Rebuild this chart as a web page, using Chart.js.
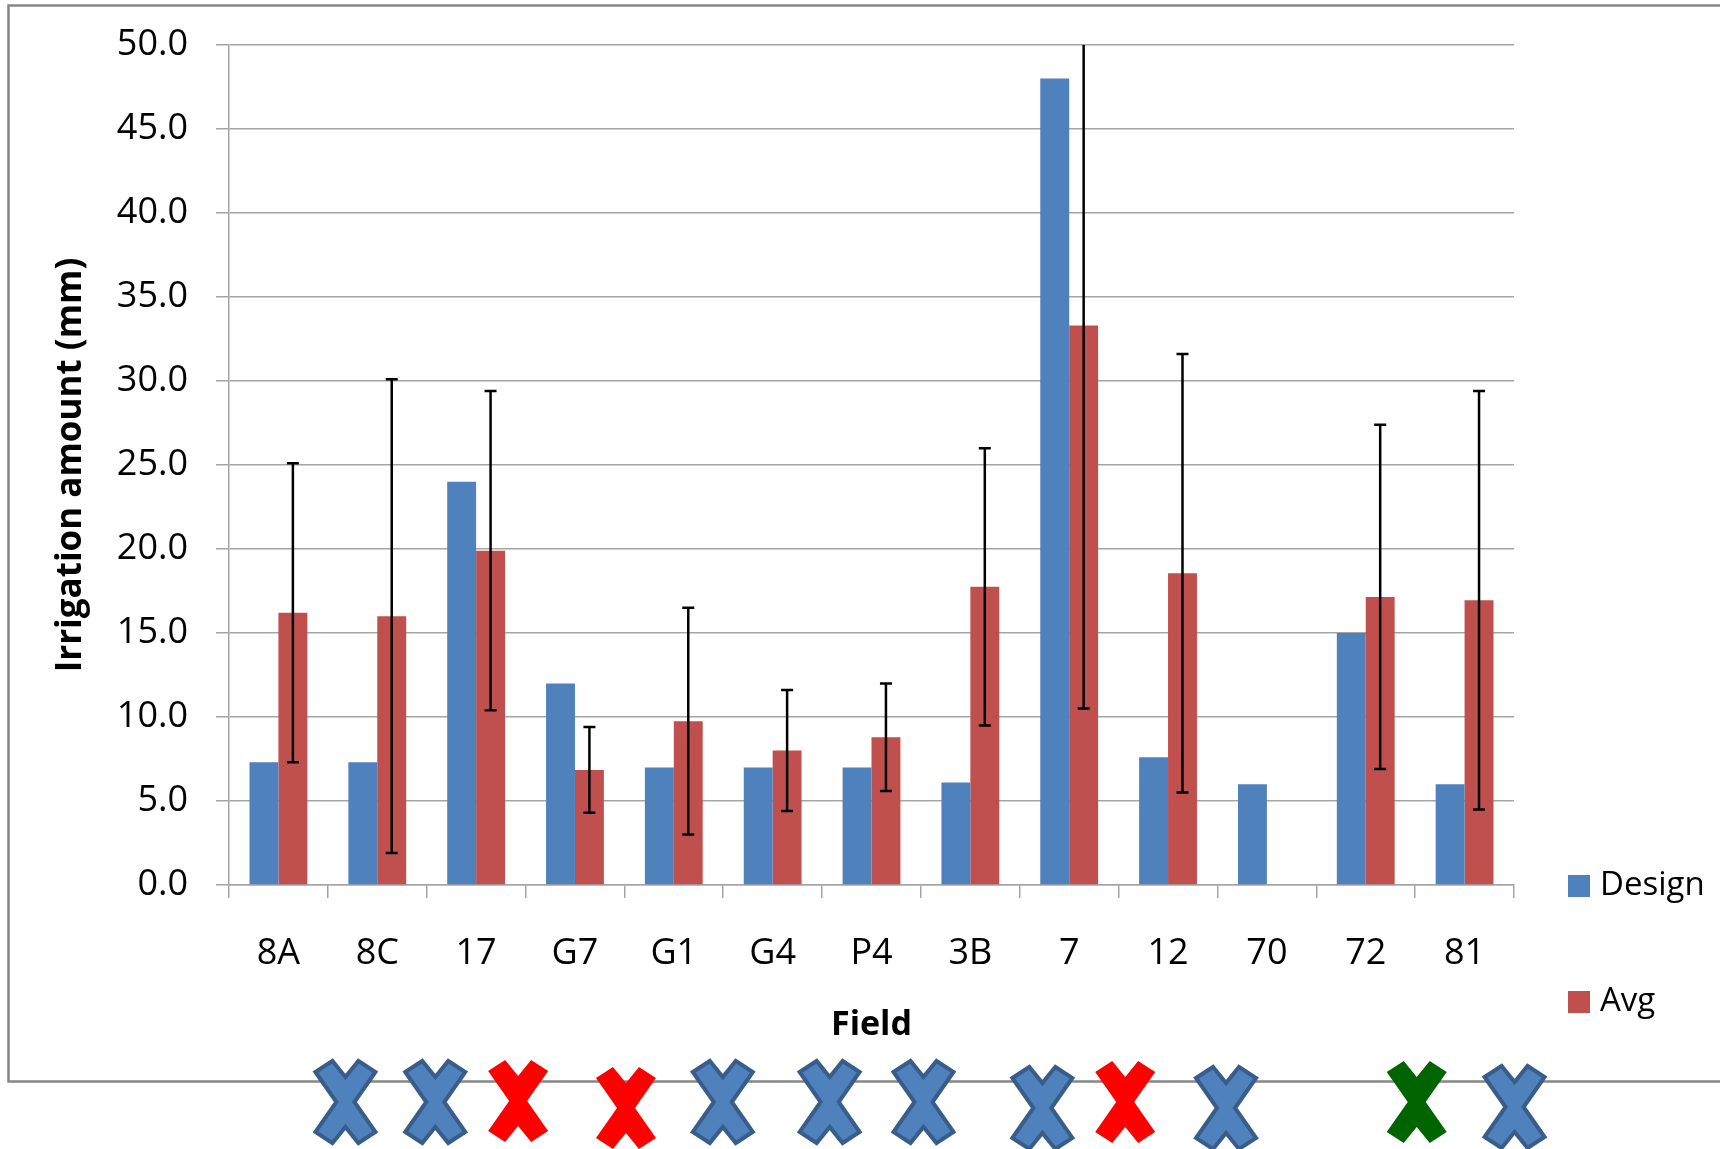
<!DOCTYPE html>
<html>
<head>
<meta charset="utf-8">
<title>Irrigation amount by field</title>
<script src="https://cdn.jsdelivr.net/npm/chart.js@4.4.1/dist/chart.umd.min.js"></script>
<style>
  html, body { margin: 0; padding: 0; background: #fff; }
  canvas { display: block; }
</style>
</head>
<body>
<canvas id="chart" width="1720" height="1149"></canvas>
<script>
const fields = ['8A', '8C', '17', 'G7', 'G1', 'G4', 'P4', '3B', '7', '12', '70', '72', '81']
const design = [7.3, 7.3, 24.0, 12.0, 7.0, 7.0, 7.0, 6.1, 48.0, 7.6, 6.0, 15.0, 6.0]
const avg = [16.2, 16.0, 19.9, 6.85, 9.75, 8.0, 8.8, 17.75, 33.3, 18.55, null, 17.15, 16.95]
const avgErr = [8.9, 14.1, 9.5, 2.55, 6.75, 3.6, 3.2, 8.25, 22.8, 13.05, null, 10.25, 12.45]
// mark drawn under each field (null = none)
const fieldMarks = ['ok', 'ok', 'fail', 'fail', 'ok', 'ok', 'ok', 'ok', 'fail', 'ok', null, 'good', 'ok']

const blue = '#4f81bd'
const red = '#c0504d'
const markColors = {
    ok: { fill: '#4f81bd', stroke: '#385d8a' },
    fail: { fill: '#ff0000', stroke: null },
    good: { fill: '#006400', stroke: null }
}
const font = '"Open Sans", "DejaVu Sans", sans-serif'

// grey frame round the whole chart
const framePlugin = {
    id: 'frame',
    beforeDraw(chart) {
        const ctx = chart.ctx
        ctx.save()
        ctx.fillStyle = '#fff'
        ctx.fillRect(0, 0, chart.width, chart.height)
        ctx.strokeStyle = '#868686'
        ctx.lineWidth = 2.5
        ctx.strokeRect(8.5, 5.5, chart.width + 20, 1076)
        ctx.restore()
    }
}

const errorBars = {
    id: 'errorBars',
    afterDatasetsDraw(chart) {
        const ctx = chart.ctx
        const y = chart.scales.y
        const area = chart.chartArea
        const meta = chart.getDatasetMeta(1)
        ctx.save()
        ctx.beginPath()
        ctx.rect(area.left - 10, area.top, area.right - area.left + 20, area.bottom - area.top + 10)
        ctx.clip()
        ctx.strokeStyle = '#000'
        ctx.lineWidth = 2.5
        meta.data.forEach((bar, i) => {
            if (avg[i] == null) return
            const top = y.getPixelForValue(avg[i] + avgErr[i])
            const bot = y.getPixelForValue(avg[i] - avgErr[i])
            ctx.beginPath()
            ctx.moveTo(bar.x, top)
            ctx.lineTo(bar.x, bot)
            ctx.moveTo(bar.x - 6, top)
            ctx.lineTo(bar.x + 6, top)
            ctx.moveTo(bar.x - 6, bot)
            ctx.lineTo(bar.x + 6, bot)
            ctx.stroke()
        })
        ctx.restore()
    }
}

const sideLegend = {
    id: 'sideLegend',
    afterDraw(chart) {
        const ctx = chart.ctx
        const area = chart.chartArea
        ctx.save()
        ctx.font = '33px ' + font
        ctx.textBaseline = 'middle'
        chart.data.datasets.forEach((ds, i) => {
            const cy = area.bottom + 1 + i * 116
            const x = area.right + 54
            ctx.fillStyle = ds.backgroundColor
            ctx.fillRect(x, cy - 11, 22, 22)
            ctx.fillStyle = '#000'
            ctx.fillText(ds.label, x + 32, cy)
        })
        ctx.restore()
    }
}

// X-shaped marks pasted under the axis, each a little off its field
const xShape = [[-30, -30], [-13, -41], [0, -25], [13, -41], [30, -30], [9, 0],
    [30, 30], [13, 41], [0, 25], [-13, 41], [-30, 30], [-9, 0]]
const fieldMarksPlugin = {
    id: 'fieldMarks',
    afterDraw(chart, args, opts) {
        const ctx = chart.ctx
        const xs = chart.scales.x
        ctx.save()
        fieldMarks.forEach((m, i) => {
            if (!m) return
            const cx = xs.getPixelForValue(i) + opts.dx[i]
            const cy = opts.y + opts.dy[i]
            ctx.beginPath()
            xShape.forEach(([dx, dy], k) => {
                if (k === 0) ctx.moveTo(cx + dx, cy + dy)
                else ctx.lineTo(cx + dx, cy + dy)
            })
            ctx.closePath()
            ctx.fillStyle = markColors[m].fill
            ctx.fill()
            if (markColors[m].stroke) {
                ctx.strokeStyle = markColors[m].stroke
                ctx.lineWidth = 4
                ctx.lineJoin = 'miter'
                ctx.stroke()
            }
        })
        ctx.restore()
    }
}

new Chart(document.getElementById('chart'), {
    type: 'bar',
    data: {
        labels: fields,
        datasets: [
            { label: 'Design', data: design, backgroundColor: blue, categoryPercentage: 0.585, barPercentage: 1.0 },
            { label: 'Avg', data: avg, backgroundColor: red, categoryPercentage: 0.585, barPercentage: 1.0 }
        ]
    },
    options: {
        responsive: false,
        animation: false,
        layout: { padding: { top: 45, right: 206, left: 0, bottom: 0 } },
        plugins: {
            legend: { display: false },
            tooltip: { enabled: false },
            fieldMarks: {
                y: 1102,
                dx: [67, 58, 42, 51, 49, 57, 52, 72, 56, 58, 0, 51, 50],
                dy: [0, 0, -1, 6, 0, 0, 0, 6, 0, 6, 0, 0, 5]
            }
        },
        scales: {
            x: {
                grid: { drawOnChartArea: false, color: '#a5a5a5', lineWidth: 1.5, tickLength: 13, offset: true },
                border: { color: '#a5a5a5', width: 1.5 },
                ticks: { color: '#000', font: { family: font, size: 36 }, padding: 34 },
                title: {
                    display: true, text: 'Field', color: '#000',
                    font: { family: font, size: 34, weight: 'bold' },
                    padding: { top: 0, bottom: 103 }
                },
                afterFit(scale) { scale.height = 264 }
            },
            y: {
                min: 0,
                max: 50,
                grid: { color: '#a5a5a5', lineWidth: 1.5, tickLength: 13 },
                border: { color: '#a5a5a5', width: 1.5 },
                ticks: {
                    stepSize: 5, color: '#000', padding: 28,
                    font: { family: font, size: 36, lineHeight: 0.9 },
                    callback: v => v.toFixed(1)
                },
                title: {
                    display: true, text: 'Irrigation amount (mm)', color: '#000',
                    font: { family: font, size: 35, weight: 'bold' },
                    padding: { top: 50, bottom: 0 }
                },
                afterFit(scale) { scale.width = 229 }
            }
        }
    },
    plugins: [framePlugin, errorBars, sideLegend, fieldMarksPlugin]
})
</script>
</body>
</html>
